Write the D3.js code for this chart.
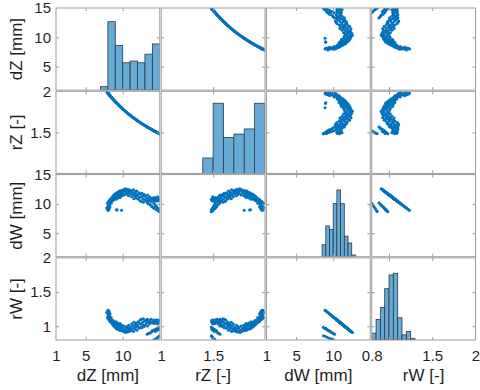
<!DOCTYPE html>
<html>
<head>
<meta charset="utf-8">
<script src="https://cdn.jsdelivr.net/npm/d3@7"></script>
<style>
  body { margin: 0; background: #fff; }
  text { font-family: "Liberation Sans", Arial, sans-serif; fill: #1f1f1f; }
</style>
</head>
<body>
<div class="matrix-chart"></div>
<script>
// variables, limits and tick settings
const vars = ['dZ', 'rZ', 'dW', 'rW'];
const titles = ['dZ [mm]', 'rZ [-]', 'dW [mm]', 'rW [-]'];
const limits = [[1, 15], [1, 2], [1, 15], [0.8, 2]];
const tickMarks = [[5, 10], [1.5], [5, 10], [1, 1.5]];
const xTickLabels = [[1, 5, 10], [1, 1.5], [1, 5, 10], [0.8, 1.5, 2]];
const yTickLabels = [[15, 10, 5], [2, 1.5], [15, 10, 5], [2, 1.5, 1]];

// samples
const dZ = [
  7.84, 7.95,
  8.00, 8.02, 8.03, 8.05, 8.06, 8.08, 8.10, 8.11, 8.13, 8.15, 8.17, 8.19, 8.21, 8.23, 8.25, 8.27, 8.29, 8.30,
  8.35, 8.40, 8.45, 8.50, 8.55, 8.60, 8.65, 8.70, 8.75, 8.80, 8.85, 8.90, 8.95, 9.00,
  9.05, 9.10, 9.15, 9.20, 9.25, 9.30, 9.35, 9.40, 9.45, 9.50, 9.55, 9.60, 9.65, 9.70, 9.75, 9.80, 9.85, 9.90, 9.95,
  9.15, 9.25, 9.85,
  10.05, 10.10, 10.20, 10.30, 10.35, 10.45, 10.50, 10.60, 10.65, 10.75, 10.80, 10.85, 10.90, 10.95,
  11.05, 11.10, 11.20, 11.30, 11.35, 11.45, 11.50, 11.60, 11.65, 11.75, 11.80, 11.85, 11.90, 11.95,
  12.05, 12.10, 12.20, 12.25, 12.35, 12.40, 12.50, 12.55, 12.60, 12.70, 12.75, 12.80, 12.90, 12.95,
  13.05, 13.10, 13.20, 13.30, 13.35, 13.45, 13.50, 13.60, 13.65, 13.75, 13.85, 13.95,
  13.30, 13.50, 13.70, 13.90, 13.95,
  14.05, 14.15, 14.25, 14.35, 14.45, 14.50, 14.60, 14.70, 14.75, 14.85, 14.90, 14.98,
  14.10, 14.25, 14.40, 14.55, 14.65, 14.80, 14.90, 15.00,
  14.20, 14.40, 14.60, 14.75, 14.90, 15.00
];
const rZ = [
  1.998, 1.985,
  1.979, 1.977, 1.976, 1.974, 1.972, 1.970, 1.968, 1.967, 1.964, 1.962, 1.960, 1.958, 1.956, 1.954, 1.951, 1.949, 1.947, 1.946,
  1.940, 1.935, 1.930, 1.925, 1.919, 1.914, 1.909, 1.904, 1.899, 1.894, 1.889, 1.884, 1.879, 1.875,
  1.870, 1.865, 1.860, 1.856, 1.851, 1.847, 1.842, 1.838, 1.833, 1.829, 1.825, 1.820, 1.816, 1.812, 1.807, 1.803, 1.799, 1.795, 1.790,
  1.860, 1.851, 1.799,
  1.782, 1.778, 1.770, 1.762, 1.758, 1.750, 1.746, 1.739, 1.735, 1.728, 1.724, 1.720, 1.716, 1.713,
  1.706, 1.702, 1.695, 1.688, 1.685, 1.678, 1.675, 1.668, 1.665, 1.658, 1.655, 1.652, 1.648, 1.645,
  1.639, 1.636, 1.630, 1.627, 1.621, 1.618, 1.612, 1.609, 1.606, 1.600, 1.597, 1.594, 1.589, 1.586,
  1.580, 1.577, 1.572, 1.566, 1.564, 1.558, 1.556, 1.551, 1.548, 1.543, 1.538, 1.533,
  1.566, 1.556, 1.546, 1.536, 1.533,
  1.528, 1.523, 1.518, 1.513, 1.508, 1.506, 1.501, 1.496, 1.494, 1.490, 1.487, 1.484,
  1.525, 1.518, 1.511, 1.503, 1.499, 1.492, 1.487, 1.482,
  1.520, 1.511, 1.501, 1.494, 1.487, 1.482
];
const dW = [
  9.3, 10.1,
  8.9, 9.6, 10.2, 9.1, 9.9, 10.4, 9.4, 8.95, 10.0, 9.7, 10.3, 9.2, 10.5, 9.8, 10.1, 10.6, 9.5, 10.8,
  10.3, 10.7, 10.1, 11.0, 10.5, 10.9, 11.3, 10.6, 11.1, 11.5, 10.8, 11.3, 11.7, 11.0,
  11.4, 10.8, 11.8, 11.2, 11.6, 12.0, 11.0, 11.5, 11.9, 11.3, 12.2, 11.7, 11.1, 12.0, 11.5, 12.3, 11.8, 11.4, 12.1,
  9.0, 8.95, 8.9,
  11.9, 12.4, 11.5, 12.2, 12.6, 11.8, 12.3, 11.6, 12.5, 12.0, 11.4, 12.4, 11.9, 12.2,
  11.7, 12.3, 11.2, 12.0, 11.5, 12.4, 10.9, 11.8, 11.3, 12.1, 11.0, 11.6, 12.2, 11.4,
  11.5, 10.8, 11.9, 11.1, 10.5, 11.7, 11.2, 10.4, 11.8, 10.9, 11.4, 10.3, 11.6, 10.7,
  11.3, 10.6, 11.0, 10.4, 11.5, 10.8, 10.5, 11.2, 10.6, 10.9, 10.4, 11.0,
  10.2, 10.0, 9.9, 9.7, 9.5,
  10.9, 10.5, 11.1, 10.7, 10.5, 11.0, 10.6, 11.2, 10.5, 10.9, 10.6, 10.8,
  9.4, 9.2, 9.6, 9.0, 9.3, 8.8, 9.1, 8.65,
  10.1, 9.8, 9.5, 9.2, 8.9, 8.7
];
const rW = [
  1.200, 1.130,
  1.236, 1.174, 1.121, 1.218, 1.147, 1.103, 1.192, 1.231, 1.139, 1.165, 1.112, 1.209, 1.094, 1.156, 1.130, 1.086, 1.183, 1.068,
  1.112, 1.077, 1.130, 1.050, 1.094, 1.059, 1.024, 1.086, 1.041, 1.006, 1.068, 1.024, 0.988, 1.050,
  1.015, 1.068, 0.980, 1.033, 0.997, 0.962, 1.050, 1.006, 0.971, 1.024, 0.944, 0.988, 1.041, 0.962, 1.006, 0.935, 0.980, 1.015, 0.953,
  0.963, 0.967, 0.970,
  0.971, 0.926, 1.006, 0.944, 0.909, 0.980, 0.935, 0.997, 0.918, 0.962, 1.015, 0.926, 0.971, 0.944,
  0.988, 0.935, 1.033, 0.962, 1.006, 0.926, 1.059, 0.980, 1.024, 0.953, 1.050, 0.997, 0.944, 1.015,
  1.006, 1.068, 0.971, 1.041, 1.094, 0.988, 1.033, 1.103, 0.980, 1.059, 1.015, 1.112, 0.997, 1.077,
  1.024, 1.086, 1.050, 1.103, 1.006, 1.068, 1.094, 1.033, 1.086, 1.059, 1.103, 1.050,
  0.883, 0.897, 0.903, 0.917, 0.930,
  1.059, 1.094, 1.041, 1.077, 1.094, 1.050, 1.086, 1.033, 1.094, 1.059, 1.086, 1.068,
  0.937, 0.950, 0.923, 0.963, 0.943, 0.977, 0.956, 0.987,
  0.800, 0.813, 0.827, 0.840, 0.854, 0.863
];

// histograms on the diagonal
const histEdges = [
  [7, 8, 9, 10, 11, 12, 13, 14, 15],
  [1.4, 1.5, 1.6, 1.7, 1.8, 1.9, 2.0],
  [8.5, 9, 9.5, 10, 10.5, 11, 11.5, 12, 12.5, 13],
  [0.8, 0.85, 0.9, 0.95, 1.0, 1.05, 1.1, 1.15, 1.2, 1.25, 1.3]
];
const histCounts = [
  [2, 40, 26, 16, 17, 16, 21, 27],
  [9, 41, 21, 23, 26, 41],
  [7, 18, 16, 31, 39, 31, 12, 8, 1],
  [4, 12, 19, 30, 38, 39, 13, 3, 5, 1]
];
const histMax = 48;

const columns = { dZ, rZ, dW, rW };

const width = 480;
const height = 390;

const svg = d3.select('.matrix-chart')
  .append('svg')
  .attr('width', width)
  .attr('height', height);

// panel positions
const colBand = d3.scaleBand().domain(d3.range(4)).range([56, 475.5]).paddingInner(0.014);
const rowBand = d3.scaleBand().domain(d3.range(4)).range([8, 340]).paddingInner(0.014);
const cw = colBand.bandwidth();
const rh = rowBand.bandwidth();

const xScales = limits.map((l, j) => d3.scaleLinear().domain(l).range([colBand(j), colBand(j) + cw]));
const yScales = limits.map((l, i) => d3.scaleLinear().domain(l).range([rowBand(i) + rh, rowBand(i)]));

const blue = '#0072BD';
const border = '#9d9d9d';

const defs = svg.append('defs');

for (let i = 0; i < 4; i++) {
  for (let j = 0; j < 4; j++) {
    const x = xScales[j];
    const y = yScales[i];
    const clipId = `clip-${i}-${j}`;
    defs.append('clipPath').attr('id', clipId)
      .append('rect')
      .attr('x', colBand(j)).attr('y', rowBand(i))
      .attr('width', cw).attr('height', rh);

    const panel = svg.append('g').attr('clip-path', `url(#${clipId})`);

    if (i === j) {
      const hy = d3.scaleLinear().domain([0, histMax]).range([rowBand(i) + rh, rowBand(i)]);
      const bins = histCounts[i].map((c, k) => ({ x0: histEdges[i][k], x1: histEdges[i][k + 1], c }));
      panel.selectAll('rect')
        .data(bins)
        .join('rect')
        .attr('x', d => x(d.x0))
        .attr('y', d => hy(d.c))
        .attr('width', d => x(d.x1) - x(d.x0))
        .attr('height', d => hy(0) - hy(d.c))
        .attr('fill', '#66aad7')
        .attr('stroke', '#2b3a47')
        .attr('stroke-width', 0.8);
    } else {
      const xs = columns[vars[j]];
      const ys = columns[vars[i]];
      panel.selectAll('circle')
        .data(d3.range(xs.length))
        .join('circle')
        .attr('cx', k => x(xs[k]))
        .attr('cy', k => y(ys[k]))
        .attr('r', 1.5)
        .attr('fill', blue);
    }

    // inward tick marks on all four sides
    const tickGroups = [
      [d3.axisBottom(x).tickValues(tickMarks[j]).tickSize(-3), `translate(0,${rowBand(i) + rh})`],
      [d3.axisTop(x).tickValues(tickMarks[j]).tickSize(-3), `translate(0,${rowBand(i)})`],
      [d3.axisLeft(y).tickValues(tickMarks[i]).tickSize(-3), `translate(${colBand(j)},0)`],
      [d3.axisRight(y).tickValues(tickMarks[i]).tickSize(-3), `translate(${colBand(j) + cw},0)`]
    ];
    tickGroups.forEach(([axis, tr]) => {
      svg.append('g')
        .attr('transform', tr)
        .call(axis.tickFormat(''))
        .call(g => g.select('.domain').remove())
        .call(g => g.selectAll('line').attr('stroke', border));
    });

    svg.append('rect')
      .attr('x', colBand(j)).attr('y', rowBand(i))
      .attr('width', cw).attr('height', rh)
      .attr('fill', 'none')
      .attr('stroke', border)
      .attr('stroke-width', 1);
  }
}

// tick labels along the bottom and the left
for (let j = 0; j < 4; j++) {
  svg.append('g')
    .attr('transform', `translate(0,340)`)
    .call(d3.axisBottom(xScales[j]).tickValues(xTickLabels[j]).tickSize(0).tickPadding(10).tickFormat(d3.format('')))
    .call(g => g.select('.domain').remove())
    .call(g => g.selectAll('text').attr('font-size', 15).attr('font-family', null));

  svg.append('text')
    .attr('x', colBand(j) + cw / 2)
    .attr('y', 381)
    .attr('text-anchor', 'middle')
    .attr('font-size', 17)
    .text(titles[j]);
}

for (let i = 0; i < 4; i++) {
  svg.append('g')
    .attr('transform', `translate(56,0)`)
    .call(d3.axisLeft(yScales[i]).tickValues(yTickLabels[i]).tickSize(0).tickPadding(5).tickFormat(d3.format('')))
    .call(g => g.select('.domain').remove())
    .call(g => g.selectAll('text').attr('font-size', 15).attr('font-family', null));

  svg.append('text')
    .attr('transform', `translate(22,${rowBand(i) + rh / 2}) rotate(-90)`)
    .attr('text-anchor', 'middle')
    .attr('font-size', 17)
    .text(titles[i]);
}
</script>
</body>
</html>
